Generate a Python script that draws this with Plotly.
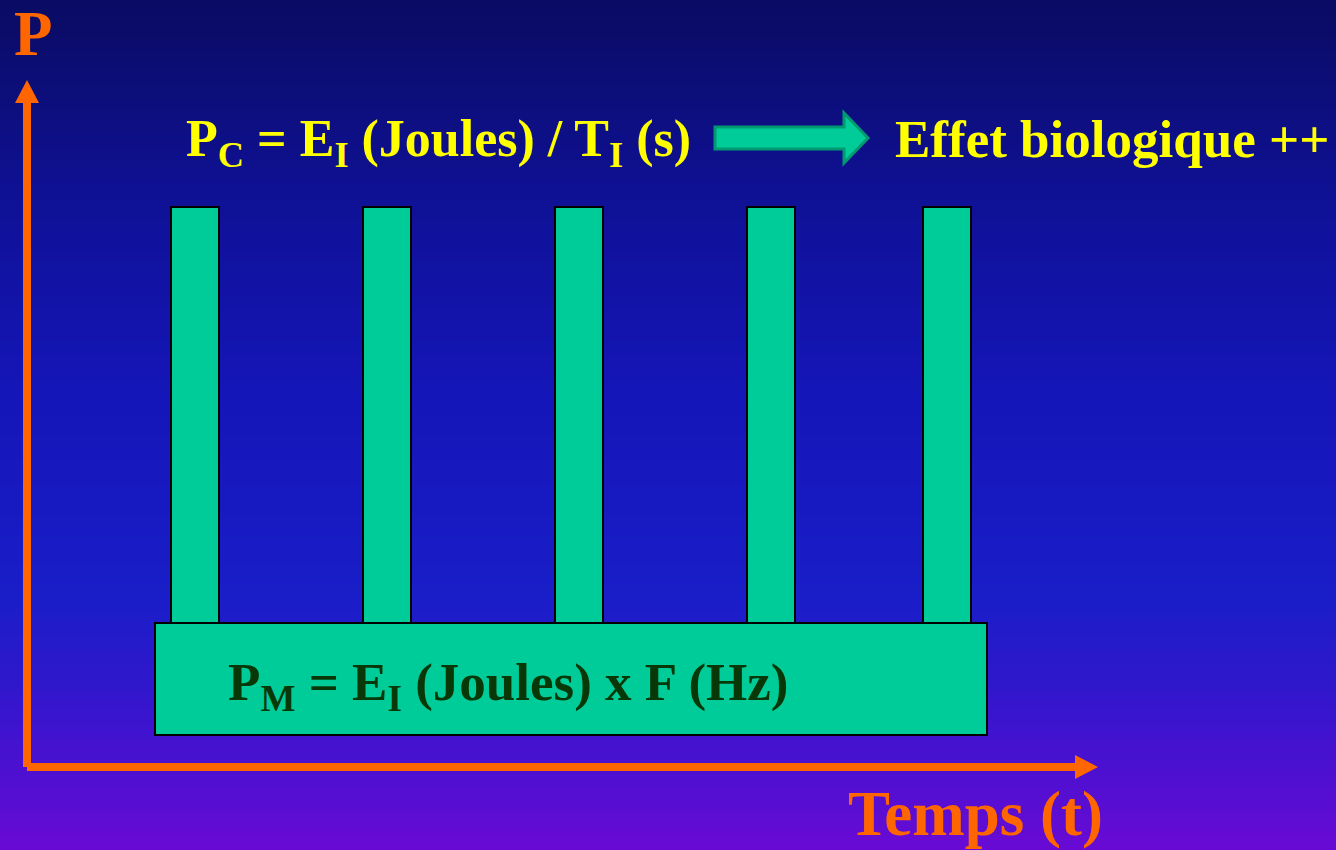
import numpy as np
import plotly.graph_objects as go

# ---- data (arbitrary time / power units) ----
pulse_start = [3.0, 7.0, 11.0, 15.0, 18.67]
pulse_width = 1.0
pulse_low = 3.0
pulse_high = 11.67
base_start = 2.67
base_end = 20.0
base_bottom = 0.67
base_top = 3.0

formula_top = "P<sub>C</sub> = E<sub>I</sub> (Joules) / T<sub>I</sub> (s)"
effect_text = "Effet biologique ++"
formula_base = "P<sub>M</sub> = E<sub>I</sub> (Joules) x F (Hz)"
y_label = "P"
x_label = "Temps (t)"

W, H = 1336, 850
X0, Y0, U = 27, 767, 48.0  # origin pixel and unit size for layout only

TEAL = "#00cc99"
ORANGE = "#ff6600"
YELLOW = "#ffff00"
DKGREEN = "#083808"
SERIF = "Liberation Serif, Times New Roman, serif"

fig = go.Figure()

# pulses
fig.add_trace(go.Bar(
    x=[s + pulse_width / 2 for s in pulse_start],
    y=[pulse_high - pulse_low] * len(pulse_start),
    base=pulse_low,
    width=pulse_width,
    marker=dict(color=TEAL, line=dict(color="black", width=2)),
    hoverinfo="skip", showlegend=False,
))
# base block
fig.add_trace(go.Bar(
    x=[(base_start + base_end) / 2],
    y=[base_top - base_bottom],
    base=base_bottom,
    width=[base_end - base_start],
    marker=dict(color=TEAL, line=dict(color="black", width=2)),
    hoverinfo="skip", showlegend=False,
))

# ---- background gradient (decoration) ----
stops_y = [0, 200, 400, 600, 700, 850]
stops_c = np.array([[10, 11, 98], [15, 17, 150], [21, 22, 185],
                    [26, 30, 200], [52, 22, 205], [105, 10, 212]], float)
shapes = []
step = 5
for py in range(0, H, step):
    c = [np.interp(py + step / 2, stops_y, stops_c[:, k]) for k in range(3)]
    shapes.append(dict(type="rect", xref="paper", yref="paper",
                       x0=0, x1=1, y0=1 - (py + step) / H, y1=1 - py / H,
                       fillcolor="rgb(%d,%d,%d)" % tuple(int(round(v)) for v in c),
                       line=dict(width=0), layer="below"))

# axes lines with arrows
tip_y = (Y0 - 80) / U
head_y = (Y0 - 103) / U
tip_x = (1098 - X0) / U
head_x = (1075 - X0) / U
hw = 12 / U
shapes += [
    dict(type="line", x0=0, y0=0, x1=0, y1=head_y + 0.05, line=dict(color=ORANGE, width=8)),
    dict(type="line", x0=0, y0=0, x1=head_x + 0.05, y1=0, line=dict(color=ORANGE, width=8)),
    dict(type="path", path=f"M {-hw},{head_y} L {hw},{head_y} L 0,{tip_y} Z",
         fillcolor=ORANGE, line=dict(width=0)),
    dict(type="path", path=f"M {head_x},{-hw} L {head_x},{hw} L {tip_x},0 Z",
         fillcolor=ORANGE, line=dict(width=0)),
]

# block arrow (paper coords)
def P(px, py):
    return f"{px / W},{1 - py / H}"
arrow = [(715, 127), (844, 127), (844, 113), (868, 138), (844, 163), (844, 149), (715, 149)]
path = "M " + " L ".join(P(*p) for p in arrow) + " Z"
shapes.append(dict(type="path", xref="paper", yref="paper", path=path,
                   fillcolor=TEAL, line=dict(color="#009970", width=3)))

def dx(px):
    return (px - X0) / U
def dy(py):
    return (Y0 - py) / U

annotations = [
    dict(x=dx(184), y=dy(142), text="<b>" + formula_top + "</b>", showarrow=False,
         xanchor="left", yanchor="middle", font=dict(family=SERIF, size=52, color=YELLOW)),
    dict(x=dx(893), y=dy(139), text="<b>" + effect_text + "</b>", showarrow=False,
         xanchor="left", yanchor="middle", font=dict(family=SERIF, size=53, color=YELLOW)),
    dict(x=dx(226), y=dy(686), text="<b>" + formula_base + "</b>", showarrow=False,
         xanchor="left", yanchor="middle", font=dict(family=SERIF, size=53, color=DKGREEN)),
    dict(x=dx(12), y=dy(34), text="<b>" + y_label + "</b>", showarrow=False,
         xanchor="left", yanchor="middle", font=dict(family=SERIF, size=63, color=ORANGE)),
    dict(x=dx(846), y=dy(814), text="<b>" + x_label + "</b>", showarrow=False,
         xanchor="left", yanchor="middle", font=dict(family=SERIF, size=63, color=ORANGE)),
]

fig.update_layout(
    width=W, height=H, margin=dict(l=0, r=0, t=0, b=0),
    paper_bgcolor="#1515b5", plot_bgcolor="rgba(0,0,0,0)",
    barmode="overlay", bargap=0,
    xaxis=dict(range=[dx(0), dx(W)], visible=False, fixedrange=True),
    yaxis=dict(range=[dy(H), dy(0)], visible=False, fixedrange=True),
    shapes=shapes, annotations=annotations, showlegend=False,
)

fig.write_html("out.html", config={"displayModeBar": False})
